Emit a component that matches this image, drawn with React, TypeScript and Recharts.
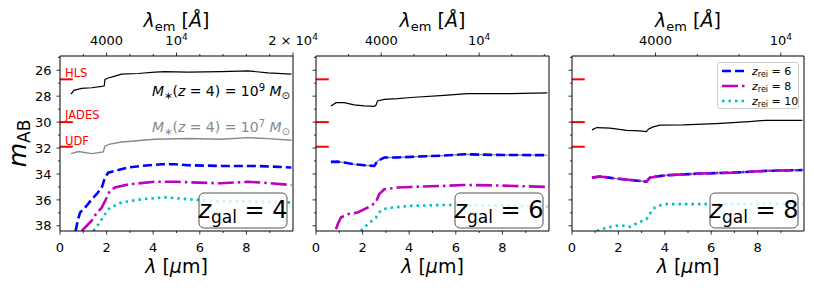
import { LineChart, Line, XAxis, YAxis, ReferenceLine, Legend } from 'recharts'

const FONT = '"DejaVu Sans", sans-serif'

const z4Massive = [[0.47, 27.85], [0.6, 27.55], [0.93, 27.4], [1.36, 27.35], [1.79, 27.25], [1.9, 27.2], [1.93, 26.7], [2.07, 26.6], [2.36, 26.45], [2.64, 26.3], [3.36, 26.25], [4.07, 26.15], [4.5, 26.1], [5.5, 26.15], [6.93, 26.1], [8.07, 26.05], [8.93, 26.2], [9.93, 26.3]]
const z4Small = [[0.47, 32.43], [0.8, 32.27], [1.36, 32.43], [1.86, 32.3], [1.93, 31.84], [2.14, 31.7], [2.64, 31.53], [4.07, 31.32], [5.5, 31.27], [6.93, 31.32], [8.07, 31.2], [8.93, 31.27], [9.93, 31.4]]
const z4Rei6 = [[0.67, 38.4], [0.76, 37.6], [0.86, 36.98], [1.07, 36.6], [1.21, 36.3], [1.36, 35.95], [1.57, 35.56], [1.79, 35.05], [1.93, 34.28], [2.07, 33.9], [2.36, 33.76], [2.93, 33.5], [3.5, 33.38], [4.36, 33.25], [4.93, 33.25], [5.5, 33.33], [6.93, 33.38], [8.36, 33.38], [9.07, 33.43], [9.93, 33.5]]
const z4Rei8 = [[0.93, 38.4], [1.36, 37.6], [1.5, 37.2], [1.79, 36.6], [1.93, 36.1], [2.14, 35.3], [2.36, 35.05], [2.93, 34.8], [4.07, 34.6], [4.93, 34.6], [5.93, 34.67], [6.93, 34.72], [8.07, 34.6], [8.93, 34.7], [9.93, 34.85]]
const z4Rei10 = [[1.43, 38.4], [1.64, 37.9], [1.93, 37.1], [2.14, 36.6], [2.64, 36.2], [3.5, 35.95], [4.5, 35.8], [5.5, 35.95], [6.93, 36.1], [8.36, 36.12], [9.93, 36.2]]

const z6Massive = [[0.64, 28.75], [0.86, 28.5], [1.21, 28.5], [1.64, 28.67], [2.07, 28.75], [2.5, 28.78], [2.57, 28.7], [2.64, 28.37], [2.93, 28.24], [3.5, 28.19], [4.07, 28.1], [5.5, 27.93], [6.5, 27.8], [7.64, 27.8], [8.36, 27.8], [9.93, 27.75]]
const z6Rei6 = [[0.64, 33.07], [0.93, 33.05], [1.21, 33.12], [1.64, 33.25], [2.07, 33.33], [2.5, 33.38], [2.64, 33.0], [2.93, 32.73], [3.5, 32.73], [4.07, 32.68], [5.5, 32.58], [6.36, 32.48], [7.64, 32.53], [9.93, 32.55]]
const z6Rei8 = [[0.86, 38.26], [0.93, 37.88], [1.07, 37.36], [1.36, 37.1], [1.79, 36.97], [2.21, 36.6], [2.57, 36.2], [2.71, 35.56], [2.93, 35.18], [3.5, 35.05], [4.07, 35.0], [5.5, 34.92], [6.36, 34.85], [7.64, 34.88], [9.93, 35.0]]
const z6Rei10 = [[1.93, 38.4], [2.21, 37.88], [2.57, 37.36], [2.71, 36.97], [2.86, 36.72], [3.21, 36.6], [4.07, 36.46], [5.5, 36.39], [6.93, 36.42], [8.36, 36.46], [9.93, 36.5]]

const z8Massive = [[0.86, 30.6], [1.07, 30.42], [1.64, 30.47], [2.36, 30.63], [2.93, 30.68], [3.21, 30.73], [3.29, 30.55], [3.5, 30.37], [3.79, 30.24], [4.79, 30.22], [6.21, 30.11], [7.64, 29.96], [8.36, 29.86], [9.93, 29.86]]
const z8Rei6 = [[0.86, 34.28], [1.21, 34.2], [1.93, 34.36], [2.64, 34.48], [3.21, 34.6], [3.36, 34.28], [3.64, 34.2], [4.07, 34.1], [5.5, 33.97], [6.93, 33.9], [8.36, 33.76], [9.93, 33.7]]
// z_rei = 8 lies exactly on top of z_rei = 6 at z = 8
const z8Rei8 = [[0.86, 34.28], [1.21, 34.2], [1.93, 34.36], [2.64, 34.48], [3.21, 34.6], [3.36, 34.28], [3.64, 34.2], [4.07, 34.1], [5.5, 33.97], [6.93, 33.9], [8.36, 33.76], [9.93, 33.7]]
const z8Rei10 = [[1.07, 38.4], [1.5, 38.13], [1.93, 38.0], [2.36, 38.0], [2.5, 38.08], [2.79, 37.8], [3.21, 37.5], [3.43, 36.85], [3.57, 36.6], [3.93, 36.33], [5.5, 36.33], [6.93, 36.33], [8.36, 36.28], [9.93, 36.33]]

const surveys = [
  { name: 'HLS', depth: 26.7 },
  { name: 'JADES', depth: 30 },
  { name: 'UDF', depth: 31.9 },
]

const yTicks = [25, 26, 27, 28, 29, 30, 31, 32, 33, 34, 35, 36, 37, 38]
const xTicks = [0, 1, 2, 3, 4, 5, 6, 7, 8, 9]
const restTicks = [2000, 4000, 6000, 8000, 10000, 12000, 14000, 16000, 18000, 20000]
const restLabels: Record<number, { base: string; exp?: string }> = {
  4000: { base: '4000' },
  10000: { base: '10', exp: '4' },
  20000: { base: '2 × 10', exp: '4' },
}

const toPts = (arr: number[][]) => arr.map(([x, m]) => ({ x, m }))

const panels = [
  { z: 4, left: 60, right: 293, massive: z4Massive, small: z4Small, rei6: z4Rei6, rei8: z4Rei8, rei10: z4Rei10 },
  { z: 6, left: 316, right: 549, massive: z6Massive, small: z6Rei6, rei6: z6Rei6, rei8: z6Rei8, rei10: z6Rei10 },
  { z: 8, left: 572, right: 804, massive: z8Massive, small: z8Rei6, rei6: z8Rei6, rei8: z8Rei8, rei10: z8Rei10 },
]

const TOP = 56
const BOTTOM = 231
const W = 814
const H = 288
const AXW = 30

const reiKeys = ['rei6', 'rei8', 'rei10'] as const
const styles = {
  rei6: { stroke: '#0000ff', dash: '9 4', name: '6' },
  rei8: { stroke: '#bf00bf', dash: '16 4 2.5 4', name: '8' },
  rei10: { stroke: '#00bfbf', dash: '2.5 4', name: '10' },
}

const LeftTick = ({ x, y, payload, showLabel }: any) => {
  const major = payload.value % 2 === 0
  return (
    <g>
      <line x1={x} x2={x - (major ? 3.5 : 2)} y1={y} y2={y} stroke="#000" strokeWidth={0.8} />
      {major && showLabel && (
        <text x={x - 8.5} y={y} dy="0.36em" textAnchor="end" fontSize={13} fontFamily={FONT} fill="#000">
          {payload.value}
        </text>
      )}
    </g>
  )
}

const BottomTick = ({ x, y, payload }: any) => {
  const major = payload.value % 2 === 0
  return (
    <g>
      <line x1={x} x2={x} y1={y} y2={y + (major ? 3.5 : 2)} stroke="#000" strokeWidth={0.8} />
      {major && (
        <text x={x} y={y + 20.5} textAnchor="middle" fontSize={13} fontFamily={FONT} fill="#000">
          {payload.value}
        </text>
      )}
    </g>
  )
}

const TopTick = ({ x, y, payload, z }: any) => {
  const lam = Math.round((payload.value * 1e4) / (1 + z))
  const label = restLabels[lam]
  return (
    <g>
      <line x1={x} x2={x} y1={y} y2={y - (label ? 3.5 : 2)} stroke="#000" strokeWidth={0.8} />
      {label && (
        <text x={x} y={y - 11} textAnchor="middle" fontSize={13} fontFamily={FONT} fill="#000">
          {label.base}
          {label.exp && (
            <tspan dy={-5} fontSize={9}>
              {label.exp}
            </tspan>
          )}
        </text>
      )}
    </g>
  )
}

const LegendBox = ({ payload }: any) => {
  const shown = reiKeys.filter((k) => (payload || []).some((e: any) => e.value === styles[k].name))
  return (
    <div
      style={{
        width: 82,
        height: 47,
        border: '1px solid #cccccc',
        borderRadius: 3,
        background: 'rgba(255,255,255,0.8)',
        boxSizing: 'border-box',
      }}
    >
      <svg width={80} height={45} style={{ display: 'block', overflow: 'visible' }}>
        {shown.map((k, i) => {
          const s = styles[k]
          const cy = 8 + i * 15
          return (
            <g key={k}>
              <line x1={4} x2={27} y1={cy} y2={cy} stroke={s.stroke} strokeWidth={2.5} strokeDasharray={s.dash} />
              <text x={34} y={cy + 3.5} fontSize={11} fontFamily={FONT} fill="#000">
                <tspan fontStyle="italic">z</tspan>
                <tspan fontSize={8} dy={2}>rei</tspan>
                <tspan dy={-2}> = {s.name}</tspan>
              </text>
            </g>
          )
        })}
      </svg>
    </div>
  )
}

function Panel({ p, index }: { p: (typeof panels)[number]; index: number }) {
  const topTicks = restTicks.map((l) => (l * (1 + p.z)) / 1e4).filter((v) => v <= 10.001)
  return (
    <div style={{ position: 'absolute', left: 0, top: 0 }}>
      <LineChart
        width={W}
        height={H}
        margin={{ top: TOP - AXW, bottom: H - BOTTOM - AXW, left: p.left - AXW, right: W - p.right }}
      >
        <XAxis
          xAxisId="bottom"
          dataKey="x"
          type="number"
          domain={[0, 10]}
          ticks={xTicks}
          interval={0}
          height={AXW}
          tickSize={0}
          tickMargin={0}
          tickLine={false}
          axisLine={{ stroke: '#000', strokeWidth: 1 }}
          tick={(t: any) => <BottomTick {...t} />}
          allowDataOverflow
        />
        <XAxis
          xAxisId="top"
          orientation="top"
          dataKey="x"
          type="number"
          domain={[0, 10]}
          ticks={topTicks}
          interval={0}
          height={AXW}
          tickSize={0}
          tickMargin={0}
          tickLine={false}
          axisLine={{ stroke: '#000', strokeWidth: 1 }}
          tick={(t: any) => <TopTick {...t} z={p.z} />}
          allowDataOverflow
        />
        <YAxis
          yAxisId="left"
          type="number"
          reversed
          domain={[24.9, 38.4]}
          ticks={yTicks}
          interval={0}
          width={AXW}
          tickSize={0}
          tickMargin={0}
          tickLine={false}
          axisLine={{ stroke: '#000', strokeWidth: 1 }}
          tick={(t: any) => <LeftTick {...t} showLabel={index === 0} />}
          allowDataOverflow
        />
        <ReferenceLine xAxisId="bottom" yAxisId="left" x={10} stroke="#000" strokeWidth={1} />
        {surveys.map((s) => (
          <ReferenceLine
            key={s.name}
            xAxisId="bottom"
            yAxisId="left"
            segment={[{ x: 0, y: s.depth }, { x: 0.55, y: s.depth }]}
            stroke="#ff0000"
            strokeWidth={2}
          />
        ))}
        {/* the massive galaxy is also plotted against the rest-frame axis so that axis is drawn */}
        <Line xAxisId="top" yAxisId="left" data={toPts(p.massive)} dataKey="m" stroke="#000" strokeWidth={1.2} dot={false} legendType="none" isAnimationActive={false} />
        <Line xAxisId="bottom" yAxisId="left" data={toPts(p.small)} dataKey="m" stroke="#888888" strokeWidth={1.4} dot={false} legendType="none" isAnimationActive={false} />
        {reiKeys.map((k) => (
          <Line
            key={k}
            xAxisId="bottom"
            yAxisId="left"
            name={styles[k].name}
            data={toPts(p[k])}
            dataKey="m"
            stroke={styles[k].stroke}
            strokeWidth={2.6}
            strokeDasharray={styles[k].dash}
            dot={false}
            isAnimationActive={false}
          />
        ))}
        {index === 2 && (
          <Legend
            verticalAlign="middle"
            align="center"
            content={(props: any) => <LegendBox {...props} />}
            wrapperStyle={{ position: 'absolute', left: 717, top: 62, width: 82, height: 47 }}
          />
        )}
      </LineChart>
    </div>
  )
}

const MassLabel = ({ x, y, exp, fill }: { x: number; y: number; exp: string; fill: string }) => (
  <text x={x} y={y} textAnchor="end" fontSize={14} fontFamily={FONT} fill={fill}>
    <tspan fontStyle="italic">M</tspan>
    <tspan fontSize={10} dy={3}>∗</tspan>
    <tspan dy={-3}>(</tspan>
    <tspan fontStyle="italic">z</tspan>
    <tspan> = 4) = 10</tspan>
    <tspan fontSize={10} dy={-5}>{exp}</tspan>
    <tspan dy={5}> </tspan>
    <tspan fontStyle="italic">M</tspan>
    <tspan fontSize={10} dy={3}>⊙</tspan>
  </text>
)

export default function App() {
  return (
    <div style={{ position: 'absolute', left: 0, top: 0, width: W, height: H, background: '#fff' }}>
      {panels.map((p, i) => (
        <Panel key={p.z} p={p} index={i} />
      ))}
      <svg width={W} height={H} style={{ position: 'absolute', left: 0, top: 0, pointerEvents: 'none' }}>
        {panels.map((p) => {
          const cx = (p.left + p.right) / 2
          return (
            <g key={p.z}>
              <text x={cx} y={27} textAnchor="middle" fontSize={19} fontFamily={FONT}>
                <tspan fontStyle="italic">λ</tspan>
                <tspan fontSize={13} dy={4}>em</tspan>
                <tspan dy={-4}> [</tspan>
                <tspan fontStyle="italic">Å</tspan>
                <tspan>]</tspan>
              </text>
              <text x={cx} y={273} textAnchor="middle" fontSize={19} fontFamily={FONT}>
                <tspan fontStyle="italic">λ</tspan>
                <tspan> [</tspan>
                <tspan fontStyle="italic">μ</tspan>
                <tspan>m]</tspan>
              </text>
              <rect x={p.right - 94} y={BOTTOM - 38} width={88} height={35} rx={5} fill="rgba(255,255,255,0.8)" stroke="#555" strokeWidth={1} />
              <text x={p.right - 50} y={BOTTOM - 13} textAnchor="middle" fontSize={24} fontFamily={FONT}>
                <tspan fontStyle="italic">z</tspan>
                <tspan fontSize={17} dy={5}>gal</tspan>
                <tspan dy={-5}> = {p.z}</tspan>
              </text>
            </g>
          )
        })}
        <text transform="translate(26,143.5) rotate(-90)" textAnchor="middle" fontSize={25} fontFamily={FONT}>
          <tspan fontStyle="italic">m</tspan>
          <tspan fontSize={17} dy={4}>AB</tspan>
        </text>
        <g fontSize={11.5} fontFamily={FONT} fill="#ff0000">
          <text x={65} y={77}>HLS</text>
          <text x={65} y={119}>JADES</text>
          <text x={65} y={145}>UDF</text>
        </g>
        <MassLabel x={290} y={96} exp="9" fill="#000" />
        <MassLabel x={290} y={132} exp="7" fill="#888888" />
      </svg>
    </div>
  )
}
